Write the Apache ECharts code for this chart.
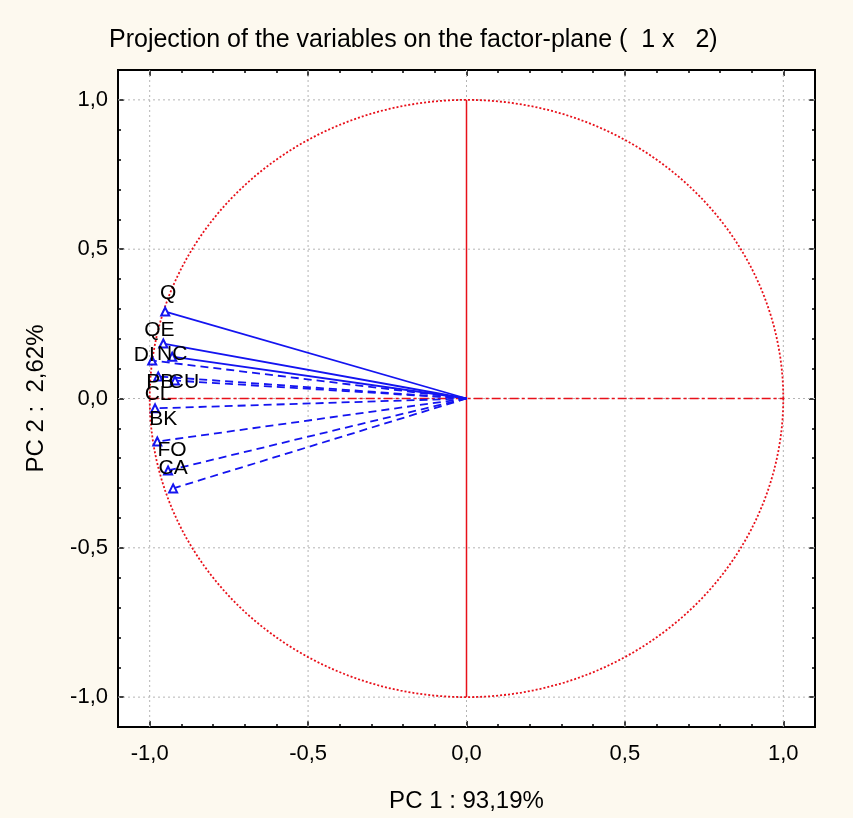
<!DOCTYPE html>
<html>
<head>
<meta charset="utf-8">
<script src="https://cdn.jsdelivr.net/npm/echarts@6/dist/echarts.min.js"></script>
<style>
html, body { margin: 0; padding: 0; background: #fdf9ef; }
#main { width: 853px; height: 818px; }
</style>
</head>
<body>
<div id="main"></div>
<script>
// variable loadings on PC1 / PC2
var varNames = ['Q', 'QE', 'DI', 'NC', 'PB', 'CU', 'CL', 'BK', 'FO', 'CA'];
var pc1 = [-0.951, -0.957, -0.992, -0.929, -0.973, -0.920, -0.983, -0.976, -0.942, -0.926];
var pc2 = [0.291, 0.184, 0.127, 0.140, 0.074, 0.060, -0.033, -0.144, -0.241, -0.301];
var solidVars = ['Q', 'QE', 'NC'];

var majorTicks = [-1.0, -0.5, 0.0, 0.5, 1.0];
var minorTicks = [-1.1, -1.0, -0.9, -0.8, -0.7, -0.6, -0.5, -0.4, -0.3, -0.2, -0.1, 0.0,
                  0.1, 0.2, 0.3, 0.4, 0.5, 0.6, 0.7, 0.8, 0.9, 1.0, 1.1];

// label placement (pixels relative to the arrow tip)
var labelOffsets = {
    Q: [3, -18], QE: [-4, -13], DI: [-8, -5], NC: [0, -2], PB: [2, 6],
    CU: [9, 2], CL: [3, -14], BK: [6, -22], FO: [4, -20], CA: [0, -20]
};

var FONT = '"Liberation Sans", Arial, sans-serif';
var blue = '#1414f0';
var red = '#e8101a';

function fmt(v) {
    return v.toFixed(1).replace('.', ',');
}

function makeAxis(pos, ticks, len, withLabel, isX) {
    var ax = {
        type: 'value',
        position: pos,
        min: -1.1,
        max: 1.1,
        axisLine: { show: false, onZero: false },
        splitLine: { show: false },
        axisTick: {
            show: true, inside: true, length: len, customValues: ticks,
            lineStyle: { color: '#000', width: 1.5 }
        },
        axisLabel: { show: false }
    };
    if (withLabel) {
        ax.axisLabel = {
            show: true, customValues: majorTicks, formatter: fmt,
            color: '#000', fontFamily: FONT, fontSize: 22, margin: isX ? 16 : 10
        };
    }
    return ax;
}

var xAxes = [
    makeAxis('bottom', majorTicks, 6, true, true),
    makeAxis('bottom', minorTicks, 3, false, true),
    makeAxis('top', majorTicks, 6, false, true),
    makeAxis('top', minorTicks, 3, false, true)
];
xAxes[0].name = 'PC 1 : 93,19%';
xAxes[0].nameLocation = 'middle';
xAxes[0].nameGap = 62;
xAxes[0].nameTextStyle = { color: '#000', fontFamily: FONT, fontSize: 24 };

var yAxes = [
    makeAxis('left', majorTicks, 6, true, false),
    makeAxis('left', minorTicks, 3, false, false),
    makeAxis('right', majorTicks, 6, false, false),
    makeAxis('right', minorTicks, 3, false, false)
];
yAxes[0].name = 'PC 2 :  2,62%';
yAxes[0].nameLocation = 'middle';
yAxes[0].nameGap = 70;
yAxes[0].nameTextStyle = { color: '#000', fontFamily: FONT, fontSize: 24 };

var series = [];

// dotted grid lines at the major ticks
majorTicks.forEach(function (v) {
    series.push({
        type: 'line', data: [[v, -1.1], [v, 1.1]], showSymbol: false, silent: true,
        lineStyle: { color: '#b4b4b4', width: 1, type: [2, 3] }
    });
    series.push({
        type: 'line', data: [[-1.1, v], [1.1, v]], showSymbol: false, silent: true,
        lineStyle: { color: '#b4b4b4', width: 1, type: [2, 3] }
    });
});

// unit circle
var circle = [];
for (var a = 0; a <= 360; a += 2) {
    circle.push([Math.cos(a * Math.PI / 180), Math.sin(a * Math.PI / 180)]);
}
series.push({
    type: 'line', data: circle, showSymbol: false, silent: true,
    lineStyle: { color: red, width: 1.8, type: [2, 2] }
});

// red axes through origin
series.push({
    type: 'line', data: [[0, -1], [0, 1]], showSymbol: false, silent: true,
    lineStyle: { color: red, width: 1.5 }
});
series.push({
    type: 'line', data: [[-1, 0], [1, 0]], showSymbol: false, silent: true,
    lineStyle: { color: red, width: 1.5, type: [9, 3, 3, 3] }
});

// variable vectors
varNames.forEach(function (n, i) {
    var solid = solidVars.indexOf(n) >= 0;
    series.push({
        type: 'line',
        data: [
            { value: [0, 0], symbol: 'none' },
            {
                value: [pc1[i], pc2[i]],
                symbol: 'emptyTriangle',
                symbolSize: 8,
                label: {
                    show: true, position: 'inside', formatter: n,
                    offset: labelOffsets[n], color: '#000',
                    fontFamily: FONT, fontSize: 21
                }
            }
        ],
        z: 5,
        itemStyle: { color: blue, borderWidth: 1.5 },
        lineStyle: { color: blue, width: 1.8, type: solid ? 'solid' : [8, 5] }
    });
});

var chart = echarts.init(document.getElementById('main'));
chart.setOption({
    backgroundColor: '#fdf9ef',
    animation: false,
    title: {
        text: 'Projection of the variables on the factor-plane (  1 x   2)',
        left: 104, top: 23,
        textStyle: { color: '#000', fontFamily: FONT, fontSize: 25, fontWeight: 'normal' }
    },
    grid: {
        left: 118, top: 70, width: 697, height: 658,
        show: true, backgroundColor: '#fff', borderColor: '#000', borderWidth: 2
    },
    xAxis: xAxes,
    yAxis: yAxes,
    series: series
});
</script>
</body>
</html>
